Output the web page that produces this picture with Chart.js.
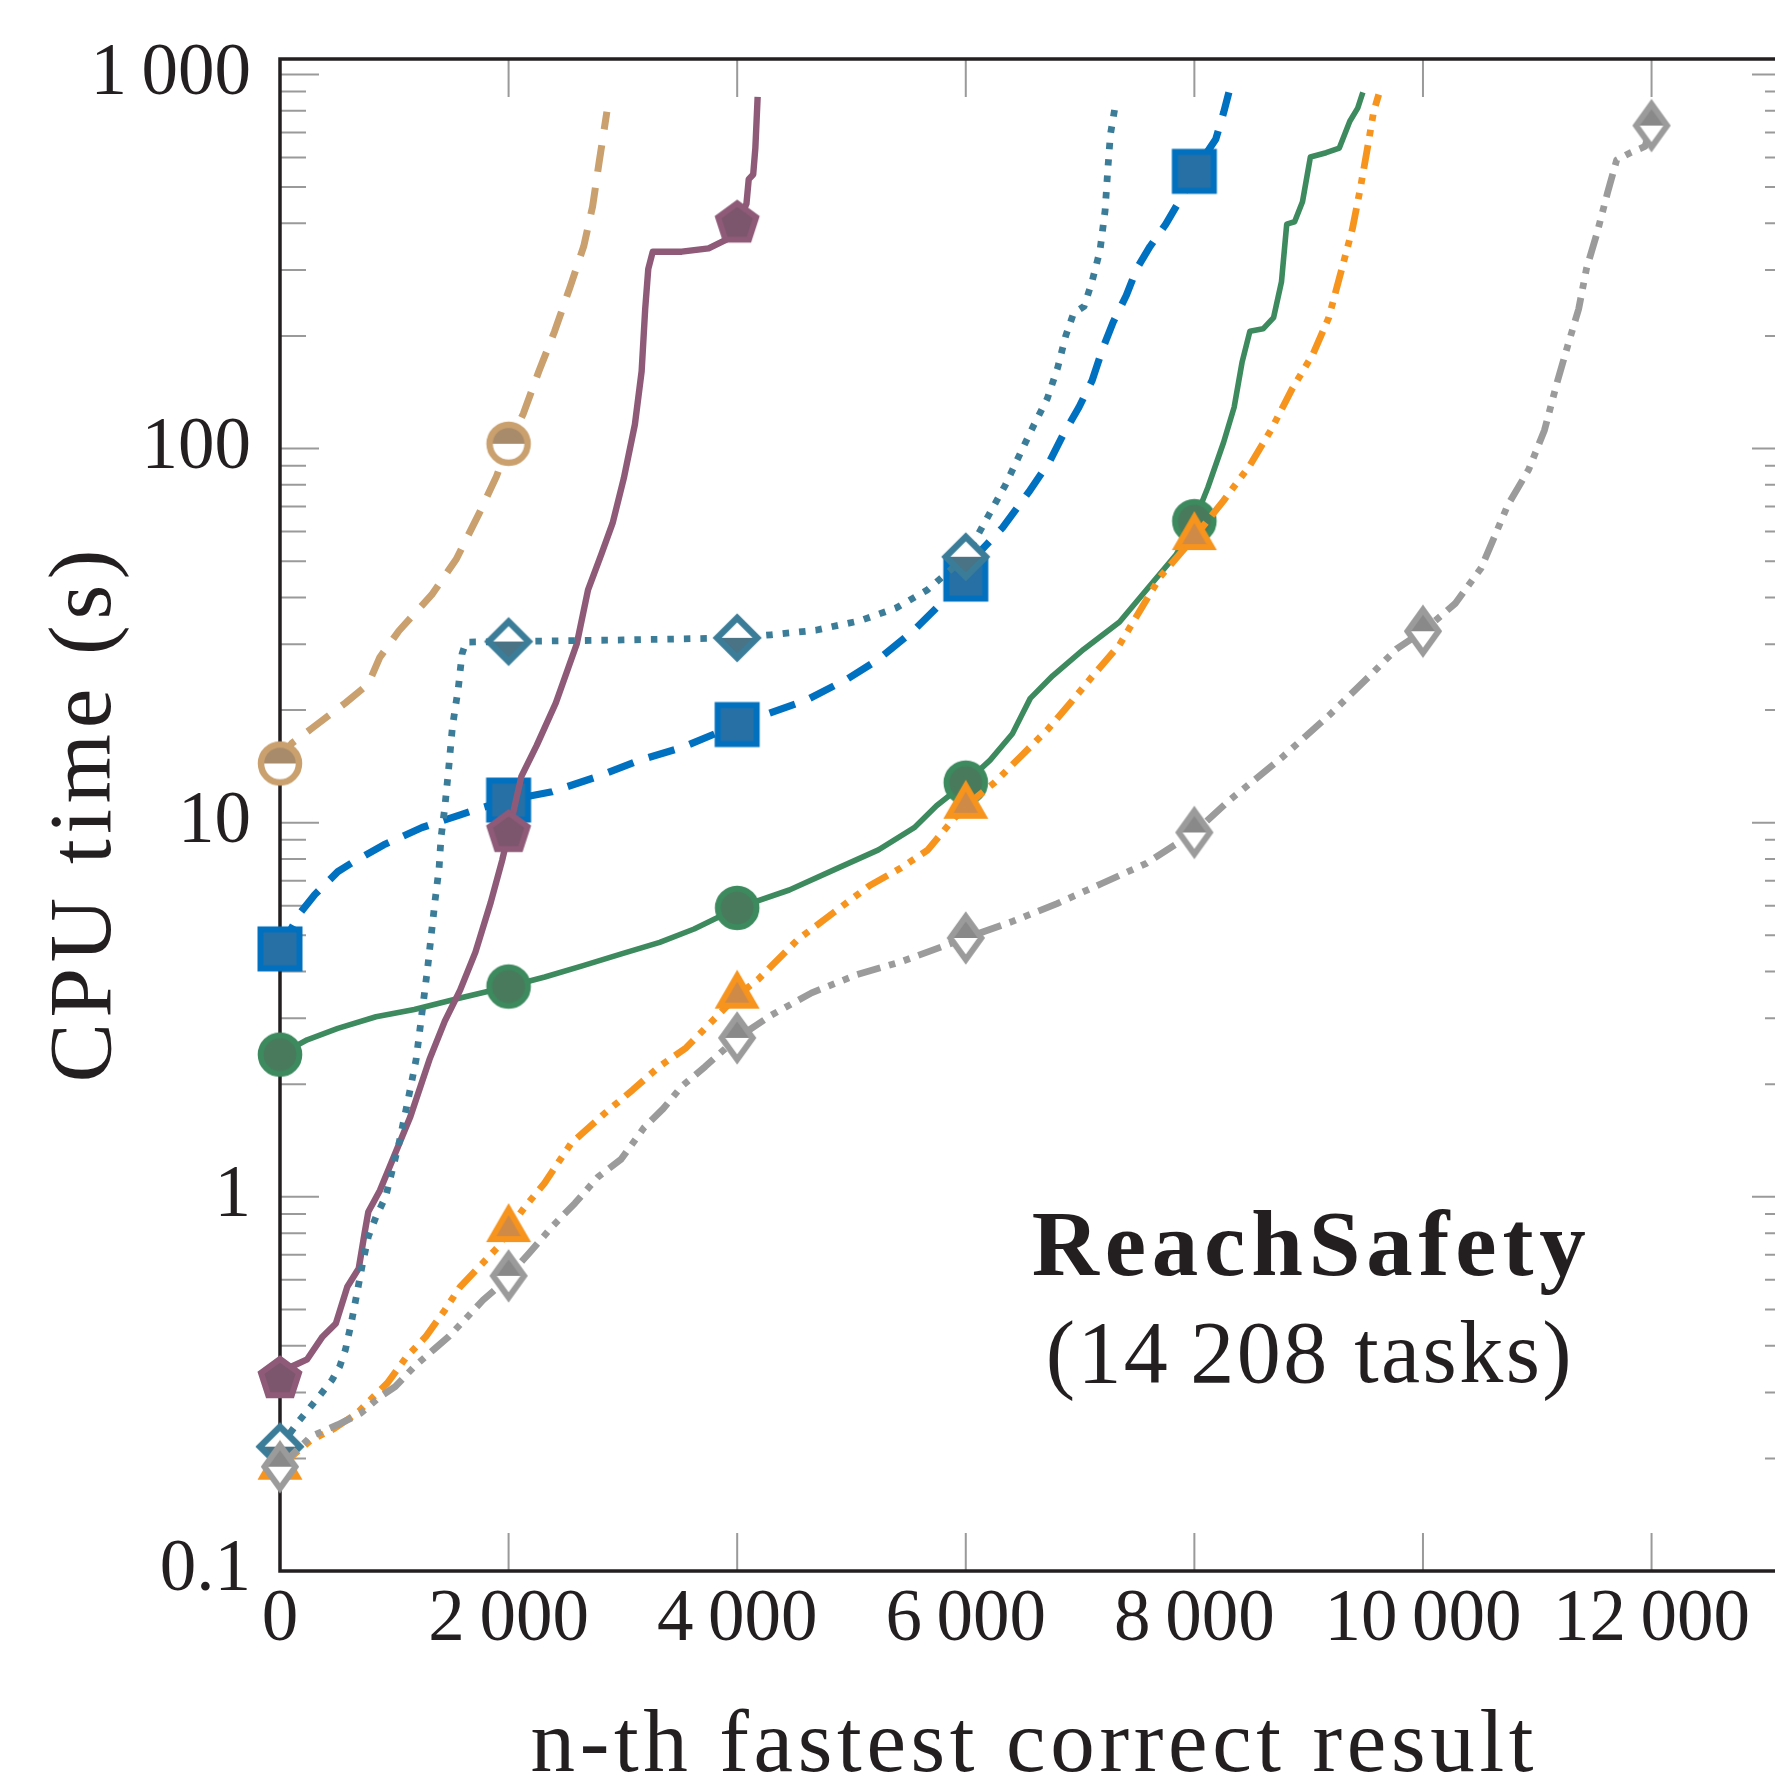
<!DOCTYPE html>
<html>
<head>
<meta charset="utf-8">
<title>ReachSafety - CPU time</title>
<script src="https://cdn.jsdelivr.net/npm/chart.js@4.4.1/dist/chart.umd.min.js"></script>
<style>
  html, body { margin: 0; padding: 0; overflow: hidden; background: #fff; }
  #wrap { position: relative; width: 1800px; height: 1778px; }
</style>
</head>
<body>
<div id="wrap"><canvas id="chart" width="1800" height="1778"></canvas></div>
<script>
// tick positions
const xTicks = [0, 2000, 4000, 6000, 8000, 10000, 12000];
const yTicks = [0.1, 1, 10, 100, 1000];

// series (x = n-th result, y = CPU time in s)
const tanX = [0, 103, 271, 572, 773, 874, 1041, 1328, 1543, 1738, 1894, 2000, 2129, 2265, 2403, 2539, 2657, 2735, 2793, 2860];
const tanY = [14.4, 16.3, 17.8, 20.9, 23.5, 27.7, 32.6, 40.7, 50.7, 66.7, 84.3, 103, 124, 161, 206, 271, 347, 444, 585, 795];

const purpleX = [0, 103, 238, 372, 489, 589, 689, 740, 773, 874, 1141, 1308, 1442, 1576, 1710, 1844, 1944, 2000, 2112, 2246, 2413, 2597, 2695, 2812, 2910, 3008, 3105, 3164, 3195, 3222, 3261, 3515, 3750, 3905, 4000, 4081, 4101, 4140, 4159, 4179];
const purpleY = [0.326, 0.352, 0.368, 0.423, 0.459, 0.575, 0.644, 0.80, 0.913, 1.04, 1.64, 2.33, 2.95, 3.57, 4.51, 6.13, 7.94, 9.4, 13.3, 16.1, 20.9, 30.1, 41.9, 52.2, 63.2, 83.3, 116, 161, 236, 302, 336, 336, 343, 362, 400, 451, 525, 540, 636, 871];

const tealX = [0, 171, 338, 455, 522, 572, 623, 673, 723, 773, 840, 924, 1041, 1124, 1191, 1242, 1292, 1325, 1359, 1392, 1409, 1442, 1476, 1509, 1560, 1593, 1627, 2000, 3000, 4000, 4296, 4687, 5078, 5390, 5663, 6000, 6184, 6345, 6483, 6598, 6713, 6805, 6874, 6943, 7035, 7104, 7174, 7219, 7242, 7265, 7311];
const tealY = [0.215, 0.253, 0.292, 0.324, 0.352, 0.390, 0.459, 0.552, 0.665, 0.783, 0.885, 1.0, 1.39, 1.84, 2.33, 3.10, 4.10, 5.07, 6.28, 7.57, 9.14, 11.0, 14.0, 18.1, 22.9, 28.3, 30.4, 30.5, 30.8, 31.2, 31.8, 32.7, 34.7, 37.5, 41.9, 51.4, 65, 79.8, 98, 116, 136, 165, 200, 230, 240, 279, 338, 433, 554, 690, 836];

const blueX = [0, 171, 305, 506, 640, 908, 1243, 1577, 1778, 2000, 2380, 2782, 3151, 3519, 4000, 4296, 4609, 4961, 5234, 5546, 5781, 6000, 6138, 6322, 6552, 6737, 6852, 6990, 7105, 7198, 7290, 7405, 7497, 7612, 7750, 7888, 8000, 8187, 8256, 8302];
const blueY = [4.6, 5.71, 6.43, 7.40, 7.85, 8.73, 9.71, 10.5, 11.0, 11.5, 12.1, 13.3, 14.7, 15.9, 18.3, 19.7, 21.3, 24.2, 27.3, 32.7, 38.5, 44.8, 53.6, 61.5, 76.6, 92.8, 109, 129, 152, 185, 218, 257, 303, 347, 398, 470, 551, 671, 791, 896];

const greenX = [0, 238, 506, 840, 1175, 1576, 2000, 2317, 2652, 2987, 3322, 3623, 4000, 4456, 4846, 5236, 5549, 5744, 6000, 6213, 6408, 6486, 6564, 6760, 7033, 7345, 7611, 7841, 8000, 8118, 8256, 8348, 8417, 8486, 8601, 8693, 8762, 8808, 8877, 8946, 9015, 9153, 9268, 9360, 9429, 9474];
const greenY = [2.40, 2.63, 2.82, 3.03, 3.17, 3.40, 3.65, 3.87, 4.15, 4.46, 4.79, 5.20, 5.92, 6.61, 7.48, 8.46, 9.70, 11.1, 12.8, 14.7, 17.3, 19.3, 21.5, 24.7, 29.1, 34.4, 43.0, 52.1, 64.0, 78.7, 104, 129, 170, 206, 209, 224, 279, 398, 404, 457, 602, 618, 636, 750, 813, 896];

const orangeX = [0, 271, 472, 673, 807, 940, 1108, 1275, 1442, 1576, 1743, 1910, 2000, 2145, 2313, 2547, 2849, 3084, 3318, 3552, 3753, 4000, 4182, 4533, 4846, 5158, 5432, 5666, 5862, 6000, 6251, 6486, 6720, 6915, 7111, 7345, 7703, 8000, 8256, 8486, 8670, 8853, 9038, 9176, 9291, 9383, 9452, 9521, 9567, 9613];
const orangeY = [0.19, 0.224, 0.240, 0.264, 0.290, 0.318, 0.374, 0.423, 0.498, 0.575, 0.650, 0.736, 0.82, 0.942, 1.087, 1.39, 1.68, 1.93, 2.23, 2.50, 2.89, 3.45, 3.81, 4.88, 5.76, 6.79, 7.57, 8.45, 9.97, 11.1, 12.8, 15.1, 17.8, 20.9, 24.7, 29.9, 45.5, 58, 72.6, 90.3, 112, 144, 179, 224, 303, 387, 496, 653, 791, 884];

const greyX = [0, 271, 506, 706, 874, 1008, 1175, 1342, 1476, 1643, 1777, 1910, 2000, 2179, 2380, 2580, 2782, 2984, 3184, 3352, 3519, 3720, 4000, 4299, 4651, 5042, 5432, 6000, 6409, 6799, 7190, 7580, 8000, 8309, 8762, 9181, 9529, 9767, 10000, 10281, 10510, 10741, 10925, 11063, 11178, 11270, 11362, 11431, 11523, 11615, 11695, 11811, 11942, 12000];
const greyY = [0.19, 0.229, 0.246, 0.264, 0.292, 0.311, 0.352, 0.390, 0.423, 0.479, 0.530, 0.575, 0.615, 0.707, 0.832, 0.961, 1.13, 1.26, 1.53, 1.72, 1.98, 2.23, 2.66, 3.06, 3.51, 3.92, 4.25, 4.92, 5.45, 6.08, 6.88, 7.79, 9.42, 11.5, 14.9, 19.4, 24.6, 29.1, 32.5, 38.5, 48, 70.5, 87.9, 112, 152, 190, 236, 303, 377, 483, 591, 617, 642, 730];

const ink = '#231f20';
const serif = '"Liberation Serif", "Times New Roman", serif';

function points(xs, ys) {
  return xs.map((x, i) => ({ x: x, y: ys[i] }));
}

function fmt(v) {
  if (v < 1) return String(v);
  return String(v).replace(/\B(?=(\d{3})+(?!\d))/g, '\u2009');
}

// marker glyphs, drawn once on small canvases
function marker(draw) {
  const c = document.createElement('canvas');
  c.width = 64;
  c.height = 64;
  const g = c.getContext('2d');
  g.translate(32, 32);
  g.lineWidth = 6;
  g.lineJoin = 'miter';
  draw(g);
  return c;
}

function poly(g, pts) {
  g.beginPath();
  pts.forEach((p, i) => (i ? g.lineTo(p[0], p[1]) : g.moveTo(p[0], p[1])));
  g.closePath();
}

const tanMark = marker((g) => {
  g.beginPath(); g.arc(0, 0, 19, 0, 2 * Math.PI); g.fillStyle = '#fff'; g.fill();
  g.beginPath(); g.arc(0, 0, 19, Math.PI, 2 * Math.PI); g.closePath(); g.fillStyle = '#a88b6b'; g.fill();
  g.beginPath(); g.arc(0, 0, 19, 0, 2 * Math.PI); g.lineWidth = 6.5; g.strokeStyle = '#c9a06e'; g.stroke();
});

const purpleMark = marker((g) => {
  const pts = [];
  for (let k = 0; k < 5; k++) {
    const a = (-90 + 72 * k) * Math.PI / 180;
    pts.push([20 * Math.cos(a), 20 * Math.sin(a)]);
  }
  poly(g, pts); g.fillStyle = '#7c566c'; g.fill(); g.strokeStyle = '#8e5a78'; g.stroke();
});

const tealMark = marker((g) => {
  poly(g, [[0, -20], [20, 0], [0, 20], [-20, 0]]); g.fillStyle = '#fff'; g.fill();
  poly(g, [[-20, 0], [20, 0], [0, 20]]); g.fillStyle = '#4a7386'; g.fill();
  poly(g, [[0, -20], [20, 0], [0, 20], [-20, 0]]); g.lineWidth = 6.5; g.strokeStyle = '#3b7d99'; g.stroke();
});

const blueMark = marker((g) => {
  g.beginPath(); g.rect(-19.5, -19.5, 39, 39);
  g.fillStyle = '#2670a6'; g.fill(); g.strokeStyle = '#0070bf'; g.stroke();
});

const greenMark = marker((g) => {
  g.beginPath(); g.arc(0, 0, 19.3, 0, 2 * Math.PI);
  g.fillStyle = '#4a7a5c'; g.fill(); g.strokeStyle = '#3c8a5e'; g.stroke();
});

const orangeMark = marker((g) => {
  const pts = [];
  for (let k = 0; k < 3; k++) {
    const a = (-90 + 120 * k) * Math.PI / 180;
    pts.push([20 * Math.cos(a), 20 * Math.sin(a)]);
  }
  poly(g, pts); g.fillStyle = '#d08a48'; g.fill(); g.strokeStyle = '#f7941d'; g.stroke();
});

const greyMark = marker((g) => {
  poly(g, [[0, -21.5], [15.5, 0], [0, 21.5], [-15.5, 0]]); g.fillStyle = '#fff'; g.fill();
  poly(g, [[0, -21.5], [15.5, 0], [-15.5, 0]]); g.fillStyle = '#898989'; g.fill();
  poly(g, [[0, -21.5], [15.5, 0], [0, 21.5], [-15.5, 0]]); g.strokeStyle = '#9b9b9b'; g.stroke();
});

// a mark every 2000 results, like the original plot
const markRadius = (ctx) => (ctx.raw && ctx.raw.x % 2000 === 0 ? 20 : 0);

function series(xs, ys, color, width, dash, mark) {
  return {
    data: points(xs, ys),
    borderColor: color,
    borderWidth: width,
    borderDash: dash,
    borderCapStyle: 'butt',
    borderJoinStyle: 'round',
    pointStyle: mark,
    pointRadius: markRadius,
    pointBorderWidth: 0,
    fill: false,
    tension: 0,
    clip: false
  };
}

const dashDotDot = [24, 9, 6.5, 9, 6.5, 9];

// first dataset is drawn on top
const datasets = [
  series(greyX, greyY, '#9b9b9b', 6.8, dashDotDot, greyMark),
  series(orangeX, orangeY, '#f7941d', 6.8, dashDotDot, orangeMark),
  series(tealX, tealY, '#3b7d99', 6.8, [6.5, 10], tealMark),
  series(purpleX, purpleY, '#8e5a78', 6.4, [], purpleMark),
  series(greenX, greenY, '#3c8a5e', 5.6, [], greenMark),
  series(blueX, blueY, '#0070c0', 7.2, [27, 16], blueMark),
  series(tanX, tanY, '#c9a06e', 7, [27, 16], tanMark)
];

// frame and inward ticks (major + minor), under the data
const frame = {
  id: 'frame',
  beforeDatasetsDraw(chart) {
    const { ctx, chartArea: a, scales: { x, y } } = chart;
    ctx.save();
    ctx.strokeStyle = '#9a9a9a';
    ctx.lineWidth = 2;
    ctx.beginPath();
    for (const d of yTicks) {
      for (let k = 1; k <= 9; k++) {
        const v = d * k;
        if (v > y.max) break;
        const py = y.getPixelForValue(v);
        const len = k === 1 ? 39 : 26;
        ctx.moveTo(a.left, py); ctx.lineTo(a.left + len, py);
        ctx.moveTo(a.right, py); ctx.lineTo(a.right - len, py);
      }
    }
    for (const t of xTicks) {
      const px = x.getPixelForValue(t);
      ctx.moveTo(px, a.bottom); ctx.lineTo(px, a.bottom - 38);
      ctx.moveTo(px, a.top); ctx.lineTo(px, a.top + 38);
    }
    ctx.stroke();
    ctx.strokeStyle = ink;
    ctx.lineWidth = 3.5;
    ctx.strokeRect(a.left, a.top, a.right - a.left, a.bottom - a.top);
    ctx.restore();
  }
};

// stretch text a little so it spans the same width as the original
function fitText(ctx, text, cx, y, width, font) {
  ctx.font = font;
  ctx.letterSpacing = '0px';
  const w = ctx.measureText(text).width;
  const sp = (width - w) / (text.length - 1);
  ctx.letterSpacing = sp + 'px';
  ctx.textAlign = 'left';
  ctx.textBaseline = 'alphabetic';
  ctx.fillText(text, cx - width / 2, y);
  ctx.letterSpacing = '0px';
}

const labels = {
  id: 'labels',
  afterDraw(chart) {
    const { ctx, scales: { x } } = chart;
    ctx.save();
    ctx.fillStyle = ink;
    fitText(ctx, 'n-th fastest correct result', 1032, 1771, 1003, '89px ' + serif);
    const ax = x.getPixelForValue(9000);
    fitText(ctx, 'ReachSafety', ax, 1275, 554, 'bold 93px ' + serif);
    fitText(ctx, '(14\u2009208 tasks)', ax, 1382, 526, '88px ' + serif);
    ctx.translate(110, 816);
    ctx.rotate(-Math.PI / 2);
    fitText(ctx, 'CPU time (s)', 0, 0, 533, '89px ' + serif);
    ctx.restore();
  }
};

new Chart(document.getElementById('chart'), {
  type: 'line',
  data: { datasets: datasets },
  options: {
    responsive: false,
    animation: false,
    events: [],
    layout: { autoPadding: false, padding: { left: 0, top: 59, right: 9, bottom: 0 } },
    plugins: { legend: { display: false }, tooltip: { enabled: false } },
    scales: {
      x: {
        type: 'linear',
        min: 0,
        max: 13220,
        grid: { display: false, drawTicks: false },
        border: { display: false },
        afterBuildTicks: (s) => { s.ticks = xTicks.map((v) => ({ value: v })); },
        afterFit: (s) => { s.height = 207; s.paddingLeft = 0; s.paddingRight = 0; },
        ticks: {
          padding: 6,
          autoSkip: false,
          maxRotation: 0,
          color: ink,
          font: { family: serif, size: 73 },
          callback: (v) => fmt(v)
        }
      },
      y: {
        type: 'logarithmic',
        min: 0.1,
        max: 1100,
        grid: { display: false, drawTicks: false },
        border: { display: false },
        afterBuildTicks: (s) => { s.ticks = yTicks.map((v) => ({ value: v })); },
        afterFit: (s) => { s.width = 280; s.paddingTop = 0; s.paddingBottom = 0; },
        ticks: {
          padding: 29,
          color: ink,
          font: { family: serif, size: 73 },
          callback: (v) => fmt(v)
        }
      }
    }
  },
  plugins: [frame, labels]
});
</script>
</body>
</html>
